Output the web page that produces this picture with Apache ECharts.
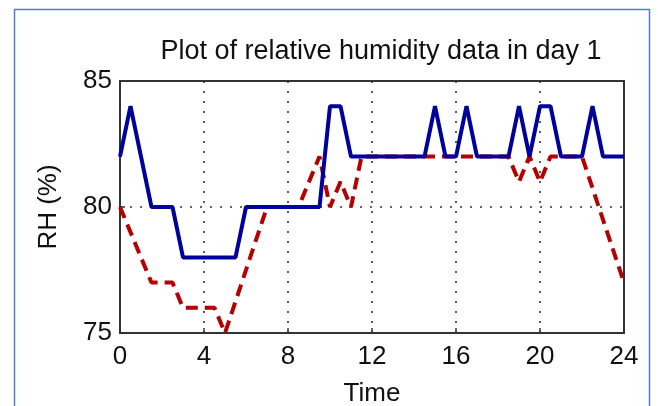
<!DOCTYPE html>
<html>
<head>
<meta charset="utf-8">
<style>
  html, body { margin: 0; padding: 0; background: #fff; }
  #chart { width: 658px; height: 406px; }
</style>
<script src="https://cdn.jsdelivr.net/npm/echarts@6/dist/echarts.min.js"></script>
</head>
<body>
<div id="chart"></div>
<script>
const FONT = '"Liberation Sans", Arial, sans-serif';
const TITLE = "Plot of relative humidity data in day 1";

// blue solid trace (hours, RH %)
const blueTime = [0, 0.5, 1.5, 2.5, 3, 5.5, 6, 9.5, 10, 10.5, 11, 14.5, 15, 15.5, 16, 16.5, 17, 18.5, 19, 19.5, 20, 20.5, 21, 22, 22.5, 23, 24];
const blueRH   = [82, 84, 80, 80, 78, 78, 80, 80, 84, 84, 82, 82, 84, 82, 82, 84, 82, 82, 84, 82, 84, 84, 82, 82, 84, 82, 82];

// red dashed trace
const redTime = [0, 1.5, 2.5, 3, 4.5, 5, 7, 8.5, 9.5, 10, 10.5, 11, 11.5, 18.5, 19, 19.5, 20, 20.5, 22, 24];
const redRH   = [80, 77, 77, 76, 76, 75, 80, 80, 82, 80, 81, 80, 82, 82, 81, 82, 81, 82, 82, 77];

const xTicks = [0, 4, 8, 12, 16, 20, 24];
const yTicks = [75, 80, 85];

const pairs = (xs, ys) => xs.map((x, i) => [x, ys[i]]);

const chart = echarts.init(document.getElementById("chart"), null, { renderer: "canvas" });

const gridDots = { color: "#333", width: 1.6, type: [2, 8] };

chart.setOption({
  backgroundColor: "#fff",
  animation: false,
  title: {
    text: TITLE,
    left: 376,
    textAlign: "center",
    top: 33,
    textStyle: { fontFamily: FONT, fontSize: 27, fontWeight: "normal", color: "#111" },
  },
  grid: {
    left: 120, right: 34, top: 81, bottom: 73,
    outerBoundsMode: "none",
    show: true, backgroundColor: "#fff", borderColor: "#333", borderWidth: 2,
  },
  graphic: [
    {
      type: "rect",
      shape: { x: 14.5, y: 9.5, width: 635, height: 420 },
      style: { fill: "none", stroke: "#4F81C4", lineWidth: 1.5 },
      silent: true,
    },
  ],
  xAxis: {
    type: "value",
    min: xTicks[0],
    max: xTicks[xTicks.length - 1],
    interval: 4,
    name: "Time",
    nameLocation: "middle",
    nameGap: 48,
    nameTextStyle: { fontFamily: FONT, fontSize: 26, color: "#111" },
    axisLine: { show: false },
    axisTick: { show: true, inside: true, length: 5, lineStyle: { color: "#333", width: 1.5 } },
    axisLabel: { fontFamily: FONT, fontSize: 26, color: "#111", margin: 11 },
    splitLine: { show: true, lineStyle: gridDots },
  },
  yAxis: {
    type: "value",
    min: yTicks[0],
    max: yTicks[yTicks.length - 1],
    interval: 5,
    name: "RH (%)",
    nameLocation: "middle",
    nameGap: 58,
    nameRotate: 90,
    nameTextStyle: { fontFamily: FONT, fontSize: 26, color: "#111" },
    axisLine: { show: false },
    axisTick: { show: true, inside: true, length: 5, lineStyle: { color: "#333", width: 1.5 } },
    axisLabel: { fontFamily: FONT, fontSize: 26, color: "#111", margin: 8 },
    splitLine: { show: true, lineStyle: gridDots },
  },
  series: [
    {
      type: "line",
      data: pairs(redTime, redRH),
      showSymbol: false,
      lineStyle: { color: "#B40000", width: 4, type: [12, 7] },
      z: 2,
    },
    {
      type: "line",
      data: pairs(blueTime, blueRH),
      showSymbol: false,
      lineStyle: { color: "#00009C", width: 4 },
      z: 3,
    },
  ],
});
</script>
</body>
</html>
